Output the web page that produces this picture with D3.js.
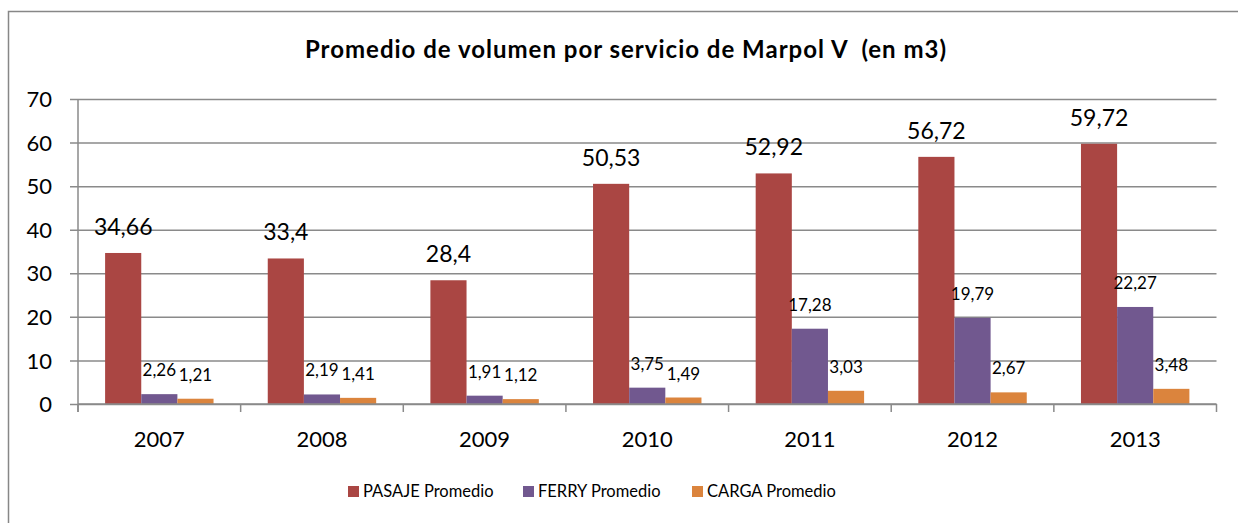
<!DOCTYPE html>
<html>
<head>
<meta charset="utf-8">
<script src="https://cdn.jsdelivr.net/npm/d3@7"></script>
<style>
  body { margin: 0; background: #fff; }
  svg { display: block; font-family: Lato, "Open Sans", sans-serif; }
</style>
</head>
<body>
<div id="chart"></div>
<script>
// data
let years = ["2007", "2008", "2009", "2010", "2011", "2012", "2013"]
let pasaje = [34.66, 33.4, 28.4, 50.53, 52.92, 56.72, 59.72]
let ferry = [2.26, 2.19, 1.91, 3.75, 17.28, 19.79, 22.27]
let carga = [1.21, 1.41, 1.12, 1.49, 3.03, 2.67, 3.48]
let seriesNames = ["PASAJE Promedio", "FERRY Promedio", "CARGA Promedio"]
let yTicks = [0, 10, 20, 30, 40, 50, 60, 70]

let colors = ["#AA4643", "#71588F", "#DB843D"]
let W = 1238, H = 523
let plot = { left: 78, right: 1216.5, top: 99, bottom: 404 }

let svg = d3.select('#chart').append('svg')
    .attr('width', W)
    .attr('height', H)

// chart frame (right/bottom edges fall outside the picture)
svg.append('rect')
    .attr('x', 8.5).attr('y', 11.5)
    .attr('width', 1300).attr('height', 600)
    .attr('fill', 'none')
    .attr('stroke', '#878787')
    .attr('stroke-width', 1.5)

svg.append('text')
    .attr('x', 626).attr('y', 58)
    .attr('text-anchor', 'middle')
    .style('font-weight', 'bold')
    .style('font-size', '24px')
    .style('letter-spacing', '1px')
    .style('white-space', 'pre')
    .text('Promedio de volumen por servicio de Marpol V  (en m3)')

let x0 = d3.scaleBand().domain(years).range([plot.left, plot.right]).paddingInner(1 / 3).paddingOuter(1 / 6)
let x1 = d3.scaleBand().domain(d3.range(3)).range([0, x0.bandwidth()])
let y = d3.scaleLinear().domain([0, 70]).range([plot.bottom, plot.top])

// horizontal gridlines + y axis
let yAxis = d3.axisLeft(y).tickValues(yTicks).tickSize(-(plot.right - plot.left))
let gy = svg.append('g').attr('transform', `translate(${plot.left},0)`).call(yAxis)
gy.select('.domain').remove()
gy.selectAll('.tick line').attr('stroke', '#8a8a8a').attr('stroke-width', 1.5).attr('x1', -8)
gy.selectAll('.tick text').style('font-size', '22px').style('font-family', 'Lato, sans-serif').attr('fill', '#000').attr('x', -26).attr('dy', '0.35em')

// vertical axis line
svg.append('line')
    .attr('x1', plot.left).attr('x2', plot.left)
    .attr('y1', plot.top).attr('y2', plot.bottom + 8)
    .attr('stroke', '#8a8a8a').attr('stroke-width', 1.5)

let series = [pasaje, ferry, carga]
let rows = years.map((yr, i) => ({ year: yr, vals: series.map(s => s[i]) }))

let groups = svg.selectAll('g.grp')
    .data(rows)
    .enter()
    .append('g')
    .attr('class', 'grp')
    .attr('transform', d => `translate(${x0(d.year)},0)`)

groups.selectAll('rect')
    .data(d => d.vals)
    .enter()
    .append('rect')
    .attr('x', (d, i) => x1(i))
    .attr('width', x1.bandwidth())
    .attr('y', d => y(d))
    .attr('height', d => y(0) - y(d))
    .attr('fill', (d, i) => colors[i])

let fmt = v => String(v).replace('.', ',')
groups.selectAll('text.lbl')
    .data(d => d.vals)
    .enter()
    .append('text')
    .attr('class', 'lbl')
    .attr('x', (d, i) => x1(i) + x1.bandwidth() / 2)
    .attr('y', d => y(d) - 18)
    .attr('text-anchor', 'middle')
    .style('font-size', (d, i) => i == 0 ? '23px' : '17px')
    .text(d => fmt(d))

// x axis baseline and ticks
let xAxisG = svg.append('g')
xAxisG.append('line')
    .attr('x1', plot.left).attr('x2', plot.right)
    .attr('y1', plot.bottom).attr('y2', plot.bottom)
    .attr('stroke', '#8a8a8a').attr('stroke-width', 1.5)
let step = x0.step()
xAxisG.selectAll('line.tk')
    .data(d3.range(years.length + 1))
    .enter()
    .append('line')
    .attr('class', 'tk')
    .attr('x1', i => plot.left + i * step).attr('x2', i => plot.left + i * step)
    .attr('y1', plot.bottom).attr('y2', plot.bottom + 8)
    .attr('stroke', '#8a8a8a').attr('stroke-width', 1.5)
xAxisG.selectAll('text')
    .data(years)
    .enter()
    .append('text')
    .attr('x', d => x0(d) + x0.bandwidth() / 2)
    .attr('y', 447)
    .attr('text-anchor', 'middle')
    .style('font-size', '22px')
    .text(d => d)

// legend
let legX = [348, 523, 692]
let leg = svg.selectAll('g.leg')
    .data(seriesNames)
    .enter()
    .append('g')
    .attr('class', 'leg')
    .attr('transform', (d, i) => `translate(${legX[i]},486)`)
leg.append('rect').attr('width', 11).attr('height', 11).attr('fill', (d, i) => colors[i])
leg.append('text').attr('x', 15).attr('y', 11).style('font-size', '16.5px').text(d => d)
</script>
</body>
</html>
